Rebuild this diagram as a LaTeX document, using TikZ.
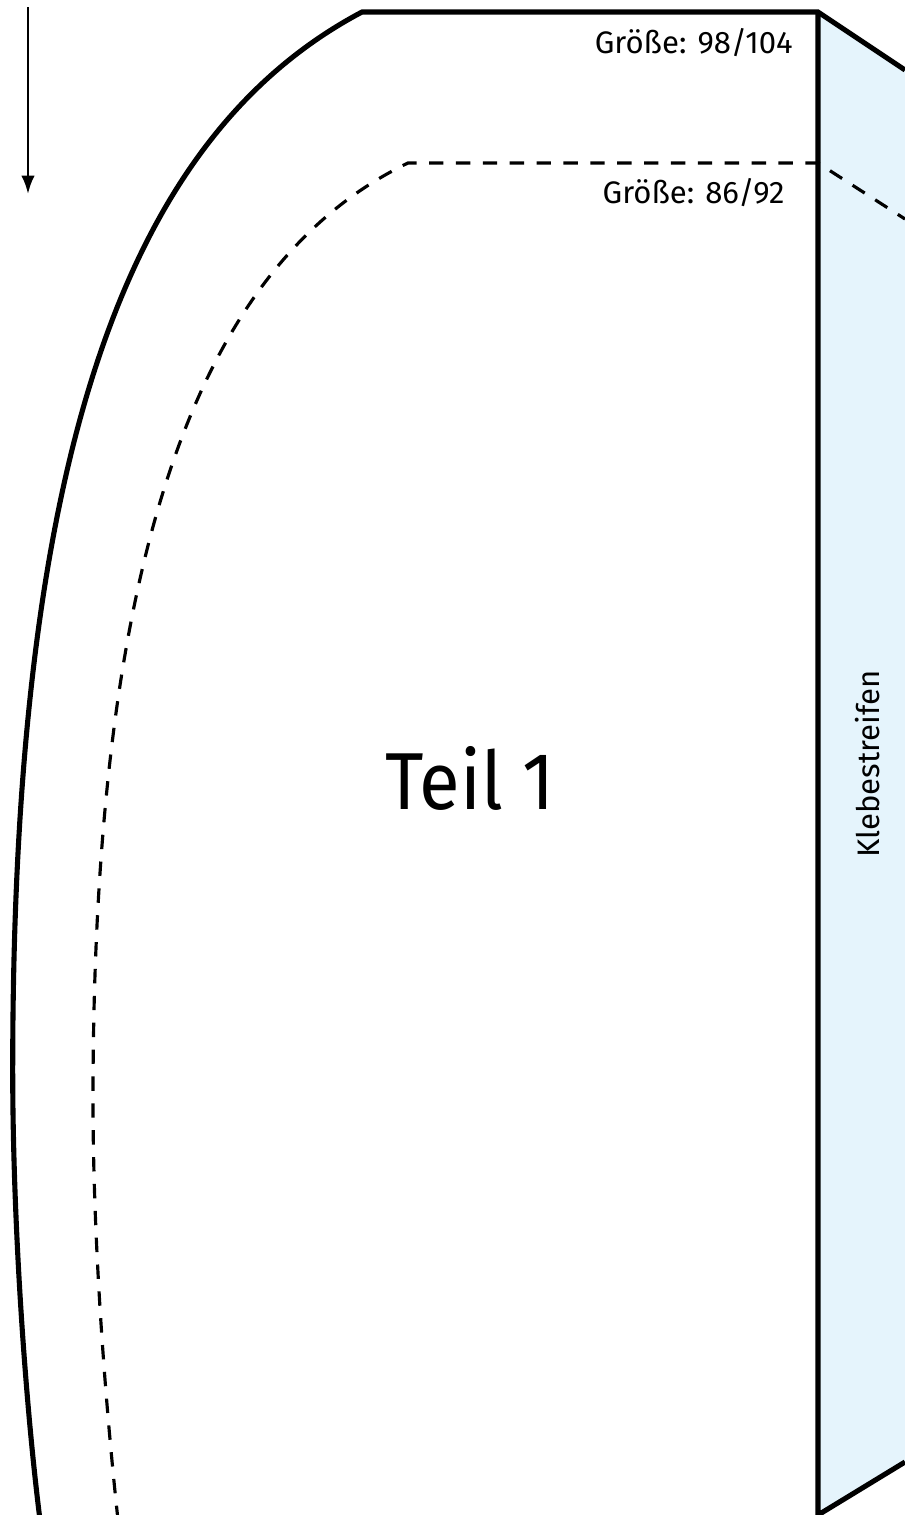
\documentclass[tikz,border=0pt]{standalone}
\usepackage{fontspec}
\setmainfont{Fira Sans}
\newfontfamily\titlefont[FakeStretch=0.92]{Fira Sans}
\usetikzlibrary{arrows.meta}
\definecolor{stripblue}{HTML}{E5F4FC}
\tikzset{
    cutline/.style={line width=2.9pt,line join=miter},
    foldline/.style={line width=1.8pt,dash pattern=on 8.2pt off 7.1pt},
    sizelabel/.style={font=\fontsize{17.7}{20}\selectfont,inner sep=0pt}
}
\begin{document}
\begin{tikzpicture}[x=0.02cm,y=-0.02cm]
\useasboundingbox (0,0) rectangle (905,1515);
\clip (0,0) rectangle (905,1515);

\coordinate (topfold) at (818,12);
\coordinate (botfold) at (818,1515);
\coordinate (midfold) at (818,163);

\fill[stripblue] (topfold) -- (905,70) -- (905,1462) -- (botfold) -- cycle;

% pattern piece
\draw[cutline] (40,1520) .. controls (25,1400) and (12.7,1220) .. (12.7,1070)
    .. controls (12.7,470) and (120,140) .. (362,12)
    -- (topfold) -- (905,70);
\draw[cutline] (topfold) -- (botfold) -- (905,1462);

% smaller size
\draw[foldline] (118,1520) .. controls (105,1400) and (93,1240) .. (93,1100)
    .. controls (93,566) and (194,266) .. (408,163)
    -- (midfold) -- (905,219);

\node[sizelabel,anchor=east] (big) at (793,43) {Größe: 98/104};
\node[sizelabel,anchor=center] (small) at (693.5,193) {Größe: 86/92};
\node[font=\titlefont\fontsize{46}{50}\selectfont,inner sep=0pt] (part) at (470,778) {Teil 1};
\node[sizelabel,rotate=90] (strip) at (868,764) {Klebestreifen};

\coordinate (arrowtop) at (28,7);
\coordinate (arrowbot) at (28,194);
\draw[-{Latex[length=10.4pt,width=7.6pt]},line width=1.5pt] (arrowtop) -- (arrowbot);
\end{tikzpicture}
\end{document}
